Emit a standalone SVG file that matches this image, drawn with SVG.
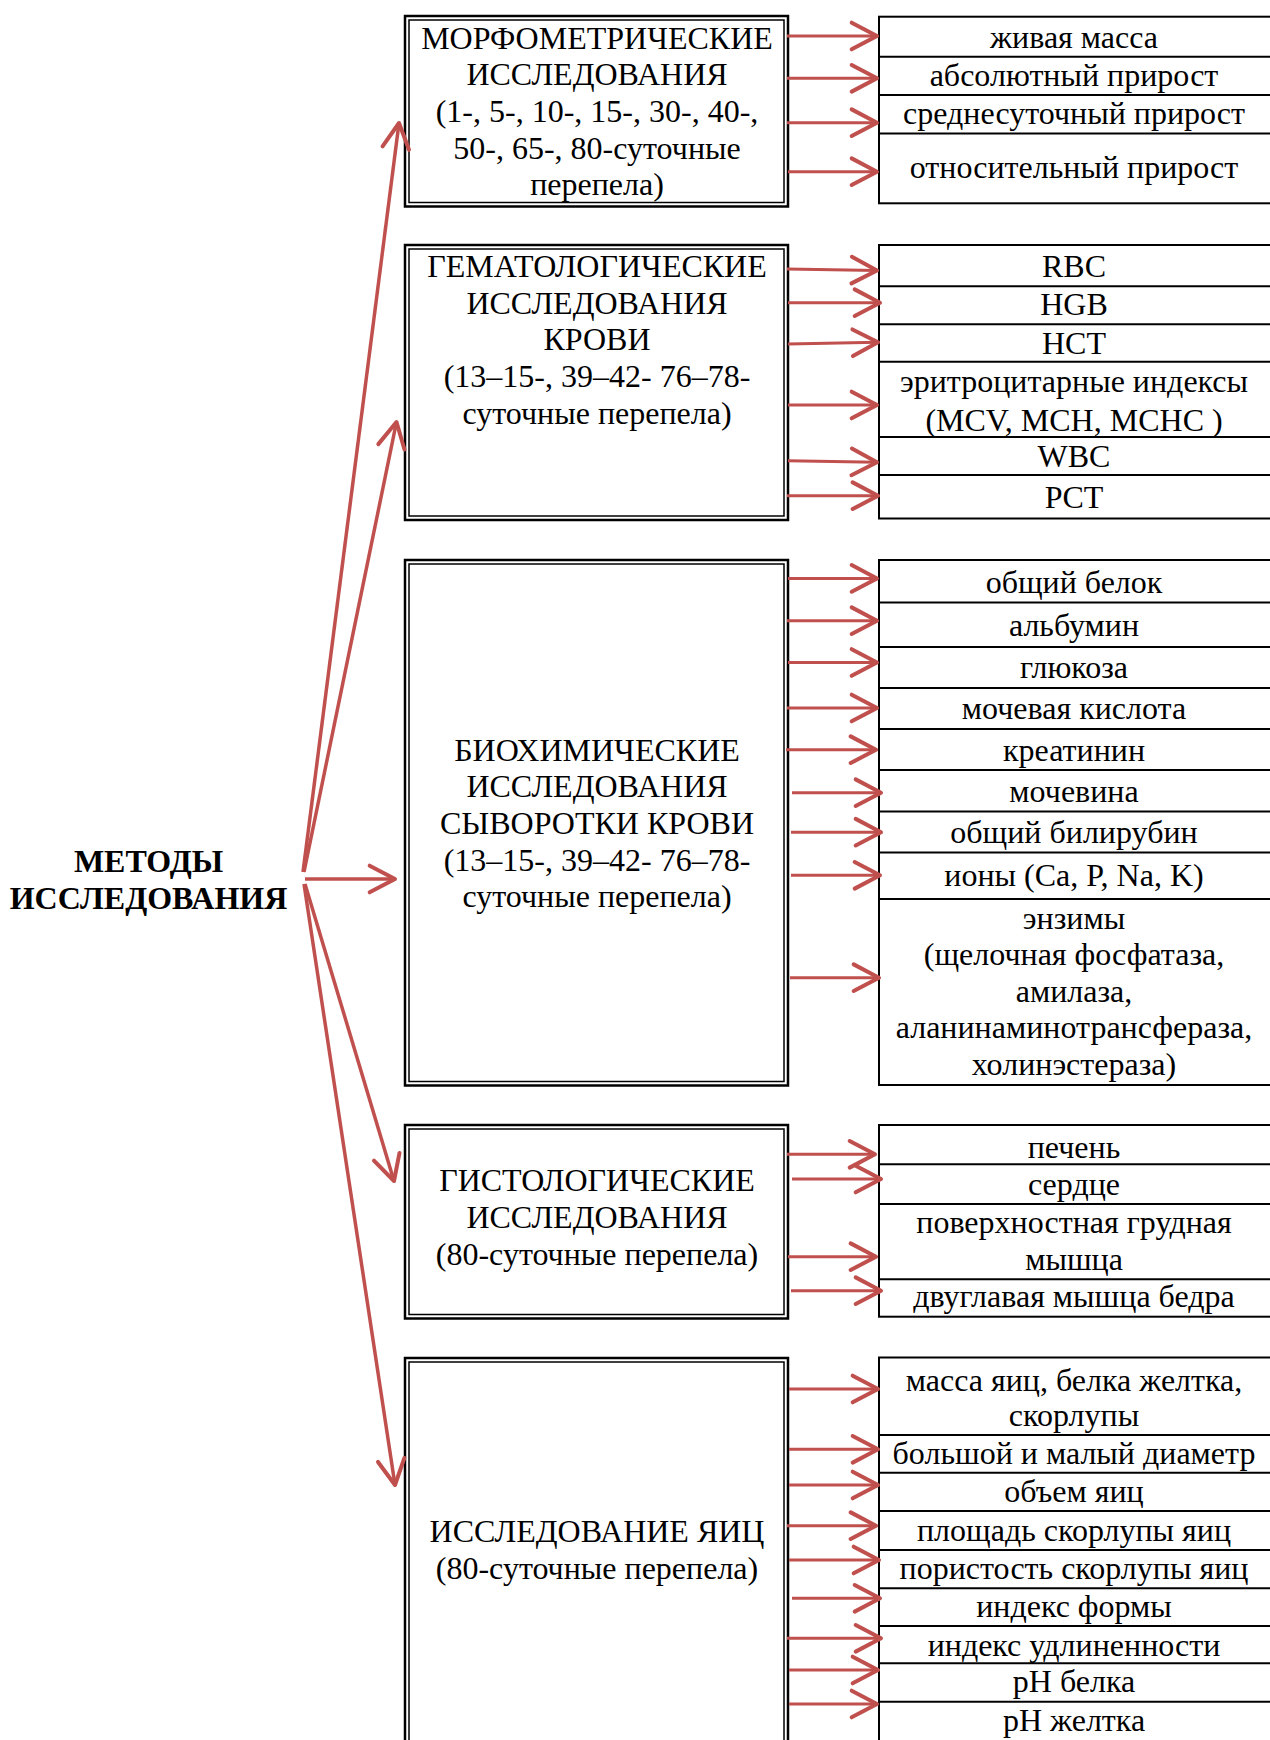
<svg xmlns="http://www.w3.org/2000/svg" width="1270" height="1740" viewBox="0 0 1270 1740">
<defs>
<style>
text{font-family:"Liberation Serif","Times New Roman",serif;font-size:32px;fill:#000;text-anchor:middle}
.b{font-weight:bold}
.outer{fill:#fff;stroke:#000;stroke-width:2.5}
.inner{fill:none;stroke:#000;stroke-width:1.5}
.rb{fill:#fff;stroke:#000;stroke-width:2}
.dv{stroke:#000;stroke-width:2}
.ar{stroke:#C0504D;stroke-width:3;fill:none;marker-end:url(#ah)}
.fan{stroke-width:3.5}
</style>
<marker id="ah" markerUnits="userSpaceOnUse" markerWidth="40" markerHeight="40" viewBox="-25 -15 30 30" refX="0" refY="0" orient="auto" overflow="visible">
<path d="M-19,-10 L0,0 L-19,10" fill="none" stroke="#C0504D" stroke-width="3" stroke-linecap="round" stroke-linejoin="round"/>
</marker>
</defs>
<rect width="1270" height="1740" fill="#fff"/>

<g id="root">
<text class="b"><tspan x="148.5" y="872">МЕТОДЫ</tspan><tspan x="148.5" y="909">ИССЛЕДОВАНИЯ</tspan></text>
</g>

<g id="morph">
<rect class="outer" x="405" y="16" width="383" height="190.5"/>
<rect class="inner" x="409" y="20" width="375" height="182.5"/>
<text><tspan x="597" y="48.5">МОРФОМЕТРИЧЕСКИЕ</tspan><tspan x="597" y="85.2">ИССЛЕДОВАНИЯ</tspan><tspan x="597" y="121.9">(1-, 5-, 10-, 15-, 30-, 40-,</tspan><tspan x="597" y="158.6">50-, 65-, 80-суточные</tspan><tspan x="597" y="195.3">перепела)</tspan></text>
</g>

<g id="hemat">
<rect class="outer" x="405" y="245" width="383" height="275"/>
<rect class="inner" x="409" y="249" width="375" height="267"/>
<text><tspan x="597" y="276.8">ГЕМАТОЛОГИЧЕСКИЕ</tspan><tspan x="597" y="313.5">ИССЛЕДОВАНИЯ</tspan><tspan x="597" y="350.2">КРОВИ</tspan><tspan x="597" y="386.9">(13–15-, 39–42- 76–78-</tspan><tspan x="597" y="423.6">суточные перепела)</tspan></text>
</g>

<g id="biochem">
<rect class="outer" x="405" y="560" width="383" height="525.5"/>
<rect class="inner" x="409" y="564" width="375" height="517.5"/>
<text><tspan x="597" y="760.5">БИОХИМИЧЕСКИЕ</tspan><tspan x="597" y="797.2">ИССЛЕДОВАНИЯ</tspan><tspan x="597" y="833.9">СЫВОРОТКИ КРОВИ</tspan><tspan x="597" y="870.6">(13–15-, 39–42- 76–78-</tspan><tspan x="597" y="907.3">суточные перепела)</tspan></text>
</g>

<g id="histo">
<rect class="outer" x="405" y="1125" width="383" height="193.5"/>
<rect class="inner" x="409" y="1129" width="375" height="185.5"/>
<text><tspan x="597" y="1191">ГИСТОЛОГИЧЕСКИЕ</tspan><tspan x="597" y="1228">ИССЛЕДОВАНИЯ</tspan><tspan x="597" y="1265">(80-суточные перепела)</tspan></text>
</g>

<g id="eggs">
<rect class="outer" x="405" y="1358" width="383" height="400"/>
<rect class="inner" x="409" y="1362" width="375" height="400"/>
<text><tspan x="597" y="1542">ИССЛЕДОВАНИЕ ЯИЦ</tspan><tspan x="597" y="1579">(80-суточные перепела)</tspan></text>
</g>

<g id="morph-list">
<rect class="rb" x="879" y="16.7" width="400" height="186.6"/>
<line class="dv" x1="879" y1="56.7" x2="1280" y2="56.7"/>
<line class="dv" x1="879" y1="95" x2="1280" y2="95"/>
<line class="dv" x1="879" y1="133.5" x2="1280" y2="133.5"/>
<text x="1074" y="47.5">живая масса</text>
<text x="1074" y="86">абсолютный прирост</text>
<text x="1074" y="124">среднесуточный прирост</text>
<text x="1074" y="178">относительный прирост</text>
</g>

<g id="hemat-list">
<rect class="rb" x="879" y="245" width="400" height="273.5"/>
<line class="dv" x1="879" y1="286.2" x2="1280" y2="286.2"/>
<line class="dv" x1="879" y1="324.2" x2="1280" y2="324.2"/>
<line class="dv" x1="879" y1="361.8" x2="1280" y2="361.8"/>
<line class="dv" x1="879" y1="437" x2="1280" y2="437"/>
<line class="dv" x1="879" y1="475" x2="1280" y2="475"/>
<text x="1074" y="277.3">RBC</text>
<text x="1074" y="314.5">HGB</text>
<text x="1074" y="353.8">HCT</text>
<text x="1074" y="392">эритроцитарные индексы</text>
<text x="1074" y="430.5">(MCV, MCH, MCHC )</text>
<text x="1074" y="466.7">WBC</text>
<text x="1074" y="507.5">PCT</text>
</g>

<g id="biochem-list">
<rect class="rb" x="879" y="560" width="400" height="525"/>
<line class="dv" x1="879" y1="602.5" x2="1280" y2="602.5"/>
<line class="dv" x1="879" y1="647" x2="1280" y2="647"/>
<line class="dv" x1="879" y1="688" x2="1280" y2="688"/>
<line class="dv" x1="879" y1="729" x2="1280" y2="729"/>
<line class="dv" x1="879" y1="770" x2="1280" y2="770"/>
<line class="dv" x1="879" y1="811.5" x2="1280" y2="811.5"/>
<line class="dv" x1="879" y1="852.5" x2="1280" y2="852.5"/>
<line class="dv" x1="879" y1="899" x2="1280" y2="899"/>
<text x="1074" y="592.5">общий белок</text>
<text x="1074" y="635.5">альбумин</text>
<text x="1074" y="677.5">глюкоза</text>
<text x="1074" y="718.5">мочевая кислота</text>
<text x="1074" y="760.5">креатинин</text>
<text x="1074" y="801.5">мочевина</text>
<text x="1074" y="842.5">общий билирубин</text>
<text x="1074" y="886">ионы (Ca, P, Na, K)</text>
<text><tspan x="1074" y="928.5">энзимы</tspan><tspan x="1074" y="965.1">(щелочная фосфатаза,</tspan><tspan x="1074" y="1001.7">амилаза,</tspan><tspan x="1074" y="1038.3">аланинаминотрансфераза,</tspan><tspan x="1074" y="1074.9">холинэстераза)</tspan></text>
</g>

<g id="histo-list">
<rect class="rb" x="879" y="1125" width="400" height="191.7"/>
<line class="dv" x1="879" y1="1164.3" x2="1280" y2="1164.3"/>
<line class="dv" x1="879" y1="1204" x2="1280" y2="1204"/>
<line class="dv" x1="879" y1="1279.3" x2="1280" y2="1279.3"/>
<text x="1074" y="1157.5">печень</text>
<text x="1074" y="1194.8">сердце</text>
<text><tspan x="1074" y="1233.2">поверхностная грудная</tspan><tspan x="1074" y="1269.8">мышца</tspan></text>
<text x="1074" y="1307.3">двуглавая мышца бедра</text>
</g>

<g id="eggs-list">
<rect class="rb" x="879" y="1357.5" width="400" height="400"/>
<line class="dv" x1="879" y1="1435" x2="1280" y2="1435"/>
<line class="dv" x1="879" y1="1472.7" x2="1280" y2="1472.7"/>
<line class="dv" x1="879" y1="1511" x2="1280" y2="1511"/>
<line class="dv" x1="879" y1="1550" x2="1280" y2="1550"/>
<line class="dv" x1="879" y1="1588.3" x2="1280" y2="1588.3"/>
<line class="dv" x1="879" y1="1626" x2="1280" y2="1626"/>
<line class="dv" x1="879" y1="1663.3" x2="1280" y2="1663.3"/>
<line class="dv" x1="879" y1="1701.7" x2="1280" y2="1701.7"/>
<text><tspan x="1074" y="1390.5">масса яиц, белка желтка,</tspan><tspan x="1074" y="1425.5">скорлупы</tspan></text>
<text x="1074" y="1463.8">большой и малый диаметр</text>
<text x="1074" y="1502.2">объем яиц</text>
<text x="1074" y="1540.5">площадь скорлупы яиц</text>
<text x="1074" y="1578.8">пористость скорлупы яиц</text>
<text x="1074" y="1617.2">индекс формы</text>
<text x="1074" y="1655.5">индекс удлиненности</text>
<text x="1074" y="1692.2">pH белка</text>
<text x="1074" y="1730.5">pH желтка</text>
</g>

<g id="connectors">
<line class="ar fan" x1="303" y1="872" x2="399" y2="123"/>
<line class="ar fan" x1="304" y1="872" x2="396.5" y2="422"/>
<line class="ar fan" x1="305" y1="879" x2="395" y2="879"/>
<line class="ar fan" x1="305" y1="884" x2="394" y2="1181"/>
<line class="ar fan" x1="304" y1="884" x2="395" y2="1485"/>

<line class="ar" x1="787" y1="36" x2="877" y2="36"/>
<line class="ar" x1="787" y1="78.3" x2="877" y2="78.3"/>
<line class="ar" x1="787" y1="122.7" x2="877" y2="122.7"/>
<line class="ar" x1="788" y1="171.7" x2="877" y2="171.7"/>

<line class="ar" x1="787" y1="269" x2="877" y2="270.5"/>
<line class="ar" x1="788" y1="302.7" x2="880" y2="302.7"/>
<line class="ar" x1="788" y1="344" x2="878" y2="342.3"/>
<line class="ar" x1="788" y1="405" x2="877" y2="405"/>
<line class="ar" x1="788" y1="460.7" x2="877" y2="462.3"/>
<line class="ar" x1="787" y1="495.7" x2="878" y2="495.7"/>

<line class="ar" x1="788" y1="578.4" x2="877" y2="578.4"/>
<line class="ar" x1="787" y1="620.7" x2="877" y2="620.7"/>
<line class="ar" x1="788" y1="662.5" x2="877" y2="662.5"/>
<line class="ar" x1="787" y1="708" x2="877" y2="708"/>
<line class="ar" x1="786" y1="749.7" x2="876" y2="749.7"/>
<line class="ar" x1="792" y1="792.7" x2="881" y2="792.7"/>
<line class="ar" x1="791" y1="832.2" x2="881" y2="832.2"/>
<line class="ar" x1="791" y1="875.3" x2="880" y2="875.3"/>
<line class="ar" x1="790" y1="977.7" x2="879" y2="977.7"/>

<line class="ar" x1="787" y1="1154.3" x2="875" y2="1154.3"/>
<line class="ar" x1="792" y1="1179" x2="881" y2="1179"/>
<line class="ar" x1="788" y1="1256.7" x2="876" y2="1256.7"/>
<line class="ar" x1="791" y1="1290.7" x2="881" y2="1290.7"/>

<line class="ar" x1="789" y1="1389" x2="878" y2="1389"/>
<line class="ar" x1="789" y1="1449.3" x2="878" y2="1449.3"/>
<line class="ar" x1="789" y1="1485" x2="878" y2="1485"/>
<line class="ar" x1="787" y1="1525.7" x2="876" y2="1525.7"/>
<line class="ar" x1="789" y1="1560" x2="879" y2="1560"/>
<line class="ar" x1="792" y1="1598.3" x2="880" y2="1598.3"/>
<line class="ar" x1="787" y1="1638.3" x2="881" y2="1638.3"/>
<line class="ar" x1="789" y1="1670" x2="878" y2="1670"/>
<line class="ar" x1="789" y1="1704" x2="877" y2="1704"/>
</g>
</svg>
